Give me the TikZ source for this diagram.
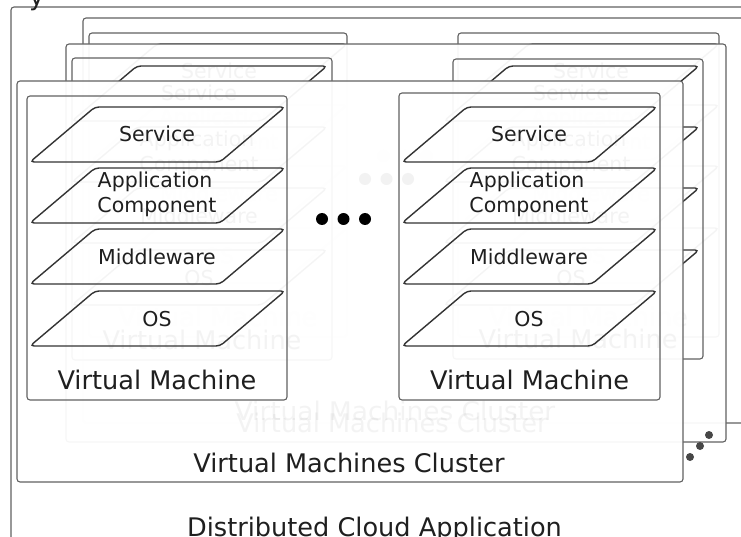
\documentclass[tikz,border=0pt]{standalone}
\usepackage{fontspec}
\setmainfont{DejaVu Sans}
\tikzset{
 boxline/.style={draw=black!62, line width=1.1pt, rounded corners=3pt},
 clusterbox/.style={boxline, fill=white, fill opacity=0.95},
 para/.style={draw=black!80, line width=1.4pt, rounded corners=4pt},
 small/.style={font=\fontsize{20.5}{25}\selectfont, text=black!88, inner sep=0pt, anchor=base},
 big/.style={font=\fontsize{25.6}{30}\selectfont, text=black!88, inner sep=0pt, anchor=base},
 bigdot/.style={circle, fill=black, draw=none, inner sep=0pt, minimum size=12pt},
 smalldot/.style={circle, fill=black!72, draw=none, inner sep=0pt, minimum size=8pt},
}
% #1 name, #2 x1, #3 y1, #4 x2, #5 y2, #6 px, #7 ptop
\newcommand\vmachine[7]{%
 \draw[boxline] (#2,#3) rectangle (#4,#5);
 \foreach \off in {0,61,122,184}{%
  \draw[para] ({#6+3},{#7+\off+55}) -- ({#6+68},{#7+\off}) -- ({#6+258},{#7+\off}) -- ({#6+193},{#7+\off+55}) -- cycle;
 }
 \node[small] (#1s) at ({#6+130},{#7+35}) {Service};
 \node[small] (#1a) at ({#6+128},{#7+81}) {Application};
 \node[small] (#1c) at ({#6+130},{#7+106}) {Component};
 \node[small] (#1m) at ({#6+130},{#7+158}) {Middleware};
 \node[small] (#1o) at ({#6+130},{#7+219}) {OS};
 \node[big] (#1l) at ({(#2+#4)/2},{#5-11}) {Virtual Machine};
}
% #1 name, #2 x1, #3 y1, #4 x2, #5 y2, #6 dots centre x, #7 dots y
\newcommand\vmclusterbox[7]{%
 \draw[clusterbox] (#2,#3) rectangle (#4,#5);
 \node[bigdot] (#1d1) at ({#6-21.5},#7) {};
 \node[bigdot] (#1d2) at (#6,#7) {};
 \node[bigdot] (#1d3) at ({#6+21.5},#7) {};
}
\begin{document}
\begin{tikzpicture}[x=1pt,y=-1pt]
\useasboundingbox (0,0) rectangle (741,537);
\fill[white] (0,0) rectangle (741,537);
% outer application box
\draw[boxline] (11,7) rectangle (820,620);
\node[big] (app) at (374.5,536) {Distributed Cloud Application};
\node[big, anchor=base west] (ycut) at (29,6) {y};
% back cluster
\vmclusterbox{cc}{83}{18}{749}{423}{405}{156}
\vmachine{cca}{89}{33}{347}{337}{89}{44}
\vmachine{ccb}{458}{33}{719}{337}{461}{44}
% middle cluster
\vmclusterbox{cb}{66}{44}{726}{442}{386.5}{179}
\node[big] (cbl) at (392,432) {Virtual Machines Cluster};
\vmachine{cba}{72}{58}{332}{360}{69}{66}
\vmachine{cbb}{453}{59}{703}{359}{441}{66}
% front cluster
\vmclusterbox{ca}{17}{81}{683}{482}{343.5}{219}
\node[big, opacity=0.05, xscale=1.03] (ccl) at (395,420) {Virtual Machines Cluster};
\node[big] (cal) at (349,472) {Virtual Machines Cluster};
\vmachine{caa}{27}{96}{287}{400}{27}{107}
\vmachine{cab}{399}{93}{660}{400}{399}{107}
% more clusters
\node[smalldot] (m1) at (709,435) {};
\node[smalldot] (m2) at (700,446) {};
\node[smalldot] (m3) at (690,457) {};
\end{tikzpicture}
\end{document}
